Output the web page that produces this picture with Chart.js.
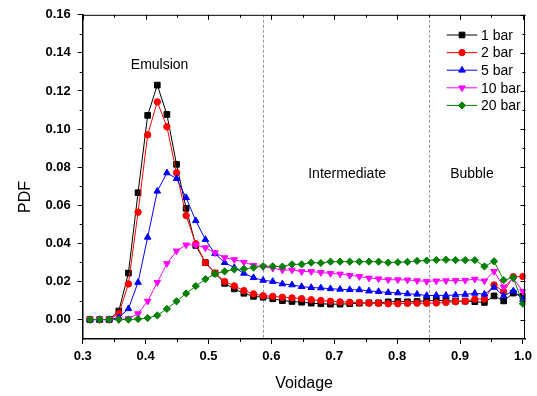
<!DOCTYPE html>
<html><head><meta charset="utf-8">
<script src="https://cdn.jsdelivr.net/npm/chart.js@4.4.0/dist/chart.umd.min.js"></script>
<style>html,body{margin:0;padding:0;background:#fff;overflow:hidden}canvas{display:block}</style>
</head><body>
<canvas id="c" width="537" height="396"></canvas>
<script>
const voidage = [0.3115, 0.3268, 0.3421, 0.3574, 0.3727, 0.388, 0.4033, 0.4186, 0.4339, 0.4492, 0.4645, 0.4798, 0.4951, 0.5104, 0.5257, 0.541, 0.5563, 0.5716, 0.5869, 0.6022, 0.6175, 0.6328, 0.6481, 0.6634, 0.6787, 0.694, 0.7093, 0.7246, 0.7399, 0.7552, 0.7705, 0.7858, 0.8011, 0.8164, 0.8317, 0.847, 0.8623, 0.8776, 0.8929, 0.9082, 0.9235, 0.9388, 0.9541, 0.9694, 0.9847, 1.0];
const pdf1bar = [0, 0, 0, 0.0045, 0.0244, 0.0666, 0.1072, 0.1231, 0.1077, 0.0815, 0.0584, 0.0389, 0.0299, 0.0244, 0.019, 0.0161, 0.0138, 0.0122, 0.0117, 0.0109, 0.0099, 0.0095, 0.0091, 0.0086, 0.0083, 0.0081, 0.0081, 0.0083, 0.0086, 0.0088, 0.0088, 0.0093, 0.0095, 0.0093, 0.0095, 0.0099, 0.01, 0.01, 0.0097, 0.0097, 0.0094, 0.009, 0.0124, 0.0098, 0.0139, 0.0123];
const pdf2bar = [0, 0, 0, 0.0031, 0.0187, 0.0564, 0.097, 0.1143, 0.1012, 0.0771, 0.0546, 0.0398, 0.0299, 0.0244, 0.02, 0.0177, 0.0152, 0.0135, 0.0125, 0.0122, 0.0117, 0.0114, 0.011, 0.0104, 0.01, 0.0096, 0.0093, 0.0091, 0.009, 0.0086, 0.0085, 0.0083, 0.0083, 0.0085, 0.0086, 0.0086, 0.0087, 0.009, 0.0094, 0.0096, 0.0107, 0.0108, 0.0182, 0.0146, 0.0225, 0.0226];
const pdf5bar = [0, 0, 0, 0.001, 0.0057, 0.0195, 0.0432, 0.0674, 0.077, 0.074, 0.064, 0.0519, 0.042, 0.0346, 0.0299, 0.0273, 0.0243, 0.022, 0.0206, 0.02, 0.0187, 0.0182, 0.0173, 0.0168, 0.0166, 0.0162, 0.0159, 0.0157, 0.0156, 0.015, 0.0147, 0.0142, 0.014, 0.0135, 0.0133, 0.0126, 0.0127, 0.0127, 0.0129, 0.0132, 0.0138, 0.0133, 0.0169, 0.0124, 0.015, 0.0106];
const pdf10bar = [0, 0, 0, 0, 0.0005, 0.0031, 0.0097, 0.0195, 0.0294, 0.036, 0.0392, 0.0392, 0.0377, 0.0351, 0.0325, 0.0315, 0.0301, 0.0285, 0.0277, 0.027, 0.026, 0.026, 0.0252, 0.0252, 0.0247, 0.0242, 0.0239, 0.0232, 0.0226, 0.0218, 0.0214, 0.0209, 0.0209, 0.0208, 0.0204, 0.02, 0.0203, 0.0204, 0.0205, 0.0206, 0.0212, 0.0203, 0.0253, 0.0171, 0.0216, 0.0148];
const pdf20bar = [0, 0, 0, 0, 0, 0.0003, 0.0008, 0.0022, 0.0056, 0.0096, 0.0137, 0.0176, 0.0212, 0.024, 0.0253, 0.0263, 0.0266, 0.0273, 0.028, 0.028, 0.0278, 0.029, 0.029, 0.0299, 0.0297, 0.0304, 0.0304, 0.0304, 0.0304, 0.0304, 0.0304, 0.0299, 0.0301, 0.0303, 0.0308, 0.031, 0.0313, 0.0314, 0.0312, 0.0312, 0.0312, 0.0279, 0.0306, 0.0207, 0.022, 0.0083];
const seriesNames = ['1 bar', '2 bar', '5 bar', '10 bar', '20 bar'];
const xTickValues = [0.3, 0.4, 0.5, 0.6, 0.7, 0.8, 0.9, 1.0];
const xMinorValues = [0.35, 0.45, 0.55, 0.65, 0.75, 0.85, 0.95];
const yTickValues = [0, 0.02, 0.04, 0.06, 0.08, 0.10, 0.12, 0.14, 0.16];
const yMinorValues = [0.01, 0.03, 0.05, 0.07, 0.09, 0.11, 0.13, 0.15];
const regionBounds = [0.586, 0.85];
const regionNames = ['Emulsion', 'Intermediate', 'Bubble'];

const FONT = "'Liberation Sans', Arial, sans-serif";
Chart.defaults.font.family = FONT;

const seriesValues = [pdf1bar, pdf2bar, pdf5bar, pdf10bar, pdf20bar];
const styles = [
  {color: '#000000', pointStyle: 'rect', radius: 4, rotation: 0},
  {color: '#ff0000', pointStyle: 'circle', radius: 3.2, rotation: 0},
  {color: '#0000ff', pointStyle: 'triangle', radius: 3.8, rotation: 0},
  {color: '#ff00ff', pointStyle: 'triangle', radius: 3.8, rotation: 180},
  {color: '#008000', pointStyle: 'rectRot', radius: 3.6, rotation: 0}
];

const datasets = seriesValues.map((vals, k) => ({
  label: seriesNames[k],
  data: vals.map((v, i) => ({x: voidage[i], y: v})),
  borderColor: styles[k].color,
  backgroundColor: styles[k].color,
  pointBackgroundColor: styles[k].color,
  pointBorderColor: styles[k].color,
  pointStyle: styles[k].pointStyle,
  pointRadius: styles[k].radius,
  pointRotation: styles[k].rotation,
  pointBorderWidth: 1,
  borderWidth: 1,
  tension: 0,
  fill: false,
  order: 5 - k
}));

const decorPlugin = {
  id: 'decor',
  beforeDatasetsDraw(chart) {
    const {ctx, chartArea: a, scales: {x}} = chart;
    ctx.save();
    ctx.strokeStyle = '#9a9a9a';
    ctx.lineWidth = 1;
    ctx.setLineDash([3, 2]);
    regionBounds.forEach(v => {
      const px = Math.round(x.getPixelForValue(v)) + 0.5;
      ctx.beginPath(); ctx.moveTo(px, a.top); ctx.lineTo(px, a.bottom); ctx.stroke();
    });
    ctx.restore();
  },
  afterDraw(chart) {
    const {ctx, chartArea: a, scales: {x, y}} = chart;
    ctx.save();
    ctx.strokeStyle = '#000';
    ctx.lineWidth = 1;
    // top and right frame
    ctx.beginPath();
    ctx.moveTo(a.left, a.top + 0.5); ctx.lineTo(a.right, a.top + 0.5);
    ctx.moveTo(Math.round(a.right) - 0.5, a.top); ctx.lineTo(Math.round(a.right) - 0.5, a.bottom);
    ctx.stroke();
    // minor ticks outward, left and bottom
    ctx.beginPath();
    xMinorValues.forEach(v => { const px = Math.round(x.getPixelForValue(v)) + 0.5; ctx.moveTo(px, a.bottom); ctx.lineTo(px, a.bottom + 3); });
    yMinorValues.forEach(v => { const py = Math.round(y.getPixelForValue(v)) + 0.5; ctx.moveTo(a.left, py); ctx.lineTo(a.left - 3, py); });
    // inward ticks top
    xTickValues.forEach(v => { const px = Math.round(x.getPixelForValue(v)) + 0.5; ctx.moveTo(px, a.top); ctx.lineTo(px, a.top + 5); });
    xMinorValues.forEach(v => { const px = Math.round(x.getPixelForValue(v)) + 0.5; ctx.moveTo(px, a.top); ctx.lineTo(px, a.top + 3); });
    // inward ticks right
    yTickValues.forEach(v => { const py = Math.round(y.getPixelForValue(v)) + 0.5; ctx.moveTo(a.right, py); ctx.lineTo(a.right - 5, py); });
    yMinorValues.forEach(v => { const py = Math.round(y.getPixelForValue(v)) + 0.5; ctx.moveTo(a.right, py); ctx.lineTo(a.right - 3, py); });
    ctx.stroke();

    // region labels
    ctx.fillStyle = '#000';
    ctx.font = '14px ' + FONT;
    ctx.textAlign = 'center';
    ctx.textBaseline = 'alphabetic';
    ctx.fillText(regionNames[0], x.getPixelForValue(0.4223), y.getPixelForValue(0.1316));
    ctx.fillText(regionNames[1], x.getPixelForValue(0.7205), y.getPixelForValue(0.0745));
    ctx.fillText(regionNames[2], x.getPixelForValue(0.919), y.getPixelForValue(0.0745));

    // y axis title
    ctx.save();
    ctx.translate(26, 197);
    ctx.rotate(-Math.PI / 2);
    ctx.font = '16px ' + FONT;
    ctx.textBaseline = 'middle';
    ctx.fillText('PDF', 0, 0);
    ctx.restore();

    // legend
    const lx0 = 446.7, lx1 = 477.3, tx = 481;
    chart.data.datasets.forEach((ds, k) => {
      const ry = 35 + k * 17.6;
      ctx.strokeStyle = ds.borderColor;
      ctx.lineWidth = 1;
      ctx.beginPath(); ctx.moveTo(lx0, ry); ctx.lineTo(lx1, ry); ctx.stroke();
      ctx.fillStyle = ds.pointBackgroundColor;
      Chart.helpers.drawPoint(ctx, {pointStyle: ds.pointStyle, rotation: ds.pointRotation, radius: ds.pointRadius, borderWidth: 1}, (lx0 + lx1) / 2, ry);
      ctx.fillStyle = '#000';
      ctx.font = '14px ' + FONT;
      ctx.textAlign = 'left';
      ctx.textBaseline = 'middle';
      ctx.fillText(ds.label, tx, ry + 1);
    });
    ctx.restore();
  }
};

new Chart(document.getElementById('c'), {
  type: 'line',
  data: {datasets},
  options: {
    responsive: false,
    animation: false,
    devicePixelRatio: 1,
    layout: {padding: {top: 11, right: 9, left: 0, bottom: 0}},
    plugins: {legend: {display: false}, tooltip: {enabled: false}},
    scales: {
      x: {
        type: 'linear', min: 0.3, max: 1.004,
        afterFit(s) { s.height = 57; },
        afterBuildTicks(s) { s.ticks = xTickValues.map(v => ({value: v})); },
        ticks: {font: {size: 13, weight: 'bold'}, color: '#000', padding: 5, autoSkip: false, maxRotation: 0, callback: v => Number(v).toFixed(1)},
        grid: {drawOnChartArea: false, drawTicks: true, tickLength: 5, tickColor: '#000', tickWidth: 1},
        border: {color: '#000', width: 1.5},
        title: {display: true, text: 'Voidage', font: {size: 16}, color: '#000', padding: {top: 0, bottom: 3}}
      },
      y: {
        type: 'linear', min: -0.0102, max: 0.16,
        afterFit(s) { s.width = 82.7; },
        afterBuildTicks(s) { s.ticks = yTickValues.map(v => ({value: v})); },
        ticks: {font: {size: 13, weight: 'bold'}, color: '#000', padding: 7, autoSkip: false, callback: v => Number(v).toFixed(2)},
        grid: {drawOnChartArea: false, drawTicks: true, tickLength: 5, tickColor: '#000', tickWidth: 1},
        border: {color: '#000', width: 1.5},
        title: {display: false}
      }
    }
  },
  plugins: [decorPlugin]
});
</script>
</body></html>
